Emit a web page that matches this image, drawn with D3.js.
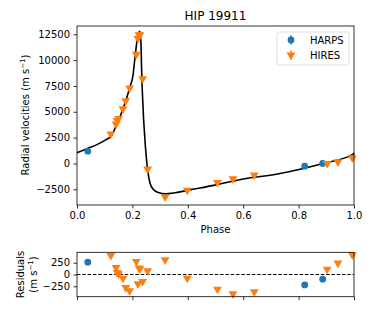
<!DOCTYPE html>
<html>
<head>
<meta charset="utf-8">
<script src="https://cdn.jsdelivr.net/npm/d3@7"></script>
<style>
  body { margin: 0; background: #fff; }
  text { font-family: "DejaVu Sans", sans-serif; }
</style>
</head>
<body>
<script>
//data
var harpsPhase = [0.039, 0.822, 0.887];
var harpsRV = [1190, -260, 0];
var harpsRes = [261, -220, -100];

var hiresPhase = [0.122, 0.141, 0.145, 0.150, 0.166, 0.176, 0.190, 0.214, 0.220, 0.224, 0.227, 0.237, 0.255, 0.318, 0.398, 0.507, 0.563, 0.640, 0.903, 0.942, 0.994];
var hiresRV = [2840, 3810, 4150, 4350, 5290, 6070, 7300, 10560, 12100, 12450, 12450, 8200, -550, -3240, -2590, -1840, -1490, -1130, 0, 160, 540];
var hiresRes = [403, 148, 42, 13, -78, -276, -347, 276, -199, 134, 120, -148, 76, 310, -78, -312, -411, -369, 112, 240, 415];

//model curve, sampled from the figure
var modelPhase = [0.000, 0.036, 0.072, 0.108, 0.123, 0.144, 0.162, 0.177, 0.191, 0.202, 0.209, 0.217, 0.227, 0.231, 0.233, 0.236, 0.248, 0.255, 0.264, 0.276, 0.294, 0.318, 0.354, 0.402, 0.498, 0.592, 0.733, 0.817, 0.888, 0.997, 1.000];
var modelRV = [1030, 1430, 1820, 2350, 2640, 3800, 4970, 6130, 7390, 8500, 10170, 11910, 12790, 11570, 9340, 6880, 1290, -650, -1940, -2520, -2810, -2940, -2840, -2590, -2100, -1550, -970, -480, 0, 900, 1030];

var xTicks = [0, 0.2, 0.4, 0.6, 0.8, 1.0];
var rvTicks = [-2500, 0, 2500, 5000, 7500, 10000, 12500];
var resTicks = [-250, 0, 250];

var blue = "#1f77b4", orange = "#ff7f0e";

var width = 374, height = 312;
var left = 77, right = 354;

var svg = d3.select("body").append("svg")
  .attr("width", width)
  .attr("height", height);

var x = d3.scaleLinear().domain([0, 1]).range([left, right]);
var y = d3.scaleLinear().domain([-4020, 13300]).range([205, 26]);
var yr = d3.scaleLinear().domain([-470, 470]).range([296.7, 252.3]);

function fmt(d){
  return d < 0 ? "\u2212" + Math.abs(d) : String(d);
}

//downward triangle marker
var tri = d3.symbol().type(d3.symbolTriangle).size(34);

function styleAxis(g){
  g.select(".domain").remove();
  g.selectAll("line").attr("stroke", "#000").attr("stroke-width", 0.8);
  g.selectAll("text").attr("font-size", 10).attr("fill", "#000");
}

// ---- main panel ----
var main = svg.append("g");

main.append("g")
  .attr("transform", "translate(0,205)")
  .call(d3.axisBottom(x).tickValues(xTicks).tickFormat(d3.format(".1f")).tickSizeOuter(0).tickSize(3.5).tickPadding(3.5))
  .call(styleAxis);

main.append("g")
  .attr("transform", "translate(" + left + ",0)")
  .call(d3.axisLeft(y).tickValues(rvTicks).tickFormat(fmt).tickSizeOuter(0).tickSize(3.5).tickPadding(3.5))
  .call(styleAxis);

var line = d3.line()
  .x(function(d, i){ return x(modelPhase[i]); })
  .y(function(d){ return y(d); })
  .curve(d3.curveMonotoneX);

main.append("path")
  .datum(modelRV)
  .attr("d", line)
  .attr("fill", "none")
  .attr("stroke", "#000")
  .attr("stroke-width", 1.6);

main.selectAll(".harps")
  .data(harpsRV)
  .enter()
  .append("circle")
  .attr("cx", function(d, i){ return x(harpsPhase[i]); })
  .attr("cy", function(d){ return y(d); })
  .attr("r", 3.4)
  .attr("fill", blue);

main.selectAll(".hires")
  .data(hiresRV)
  .enter()
  .append("path")
  .attr("d", tri)
  .attr("transform", function(d, i){ return "translate(" + x(hiresPhase[i]) + "," + y(d) + ") rotate(180)"; })
  .attr("fill", orange);

main.append("rect")
  .attr("x", left).attr("y", 26)
  .attr("width", right - left).attr("height", 205 - 26)
  .attr("fill", "none").attr("stroke", "#000").attr("stroke-width", 0.8);

main.append("text")
  .attr("x", (left + right) / 2).attr("y", 20)
  .attr("text-anchor", "middle").attr("font-size", 12)
  .text("HIP 19911");

main.append("text")
  .attr("x", (left + right) / 2).attr("y", 233)
  .attr("text-anchor", "middle").attr("font-size", 10)
  .text("Phase");

var yl = main.append("text")
  .attr("transform", "translate(29,115) rotate(-90)")
  .attr("text-anchor", "middle").attr("font-size", 10);
yl.append("tspan").text("Radial velocities (m s");
yl.append("tspan").attr("font-size", 7).attr("dy", -4).text("\u22121");
yl.append("tspan").attr("dy", 4).text(")");

//legend
var legend = main.append("g");
legend.append("rect")
  .attr("x", 277).attr("y", 32).attr("width", 72).attr("height", 33)
  .attr("rx", 2).attr("fill", "#fff").attr("fill-opacity", 0.8)
  .attr("stroke", "#d5d5d5").attr("stroke-width", 0.8);
legend.append("line")
  .attr("x1", 291).attr("x2", 291).attr("y1", 35.5).attr("y2", 44.5)
  .attr("stroke", blue).attr("stroke-width", 1.5);
legend.append("circle")
  .attr("cx", 291).attr("cy", 40).attr("r", 3.4).attr("fill", blue);
legend.append("line")
  .attr("x1", 291).attr("x2", 291).attr("y1", 50.5).attr("y2", 59.5)
  .attr("stroke", orange).attr("stroke-width", 1.5);
legend.append("path")
  .attr("d", tri)
  .attr("transform", "translate(291,55) rotate(180)")
  .attr("fill", orange);
legend.append("text").attr("x", 310).attr("y", 43.5).attr("font-size", 10).text("HARPS");
legend.append("text").attr("x", 310).attr("y", 58.5).attr("font-size", 10).text("HIRES");

// ---- residual panel ----
var res = svg.append("g");

res.append("g")
  .attr("transform", "translate(0,296.7)")
  .call(d3.axisBottom(x).tickValues(xTicks).tickFormat("").tickSizeOuter(0).tickSize(3.5))
  .call(styleAxis);

res.append("g")
  .attr("transform", "translate(" + left + ",0)")
  .call(d3.axisLeft(yr).tickValues(resTicks).tickFormat(fmt).tickSizeOuter(0).tickSize(3.5).tickPadding(3.5))
  .call(styleAxis);

res.append("line")
  .attr("x1", left).attr("x2", right)
  .attr("y1", yr(0)).attr("y2", yr(0))
  .attr("stroke", "#000").attr("stroke-width", 1)
  .attr("stroke-dasharray", "3.5,1.8");

res.selectAll(".hres")
  .data(hiresRes)
  .enter()
  .append("path")
  .attr("d", tri)
  .attr("transform", function(d, i){ return "translate(" + x(hiresPhase[i]) + "," + yr(d) + ") rotate(180)"; })
  .attr("fill", orange);

res.selectAll(".bres")
  .data(harpsRes)
  .enter()
  .append("circle")
  .attr("cx", function(d, i){ return x(harpsPhase[i]); })
  .attr("cy", function(d){ return yr(d); })
  .attr("r", 3.4)
  .attr("fill", blue);

res.append("rect")
  .attr("x", left).attr("y", 252.3)
  .attr("width", right - left).attr("height", 296.7 - 252.3)
  .attr("fill", "none").attr("stroke", "#000").attr("stroke-width", 0.8);

var rl = res.append("text")
  .attr("transform", "translate(24,274.5) rotate(-90)")
  .attr("text-anchor", "middle").attr("font-size", 10);
rl.append("tspan").attr("x", 0).attr("dy", 0).text("Residuals");
var rl2 = res.append("text")
  .attr("transform", "translate(37,274.5) rotate(-90)")
  .attr("text-anchor", "middle").attr("font-size", 10);
rl2.append("tspan").text("(m s");
rl2.append("tspan").attr("font-size", 7).attr("dy", -4).text("\u22121");
rl2.append("tspan").attr("dy", 4).text(")");
</script>
</body>
</html>
